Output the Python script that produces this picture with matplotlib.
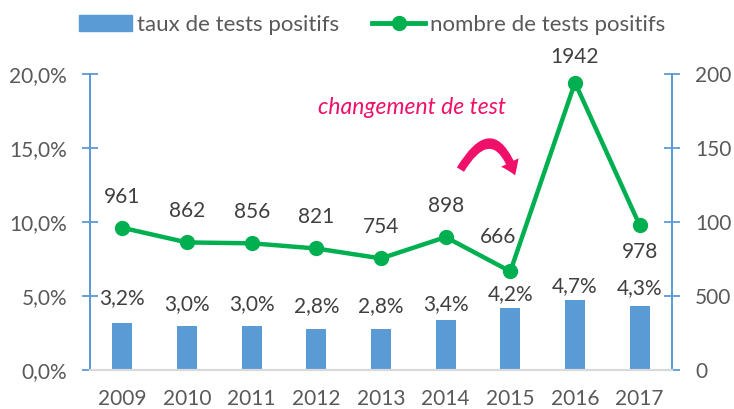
import matplotlib
matplotlib.use("Agg")
import matplotlib.pyplot as plt
from matplotlib.patches import FancyArrowPatch, Patch
from matplotlib.lines import Line2D

years = ["2009", "2010", "2011", "2012", "2013", "2014", "2015", "2016", "2017"]
taux = [3.2, 3.0, 3.0, 2.8, 2.8, 3.4, 4.2, 4.7, 4.3]
taux_labels = ["3,2%", "3,0%", "3,0%", "2,8%", "2,8%", "3,4%", "4,2%", "4,7%", "4,3%"]
nombre = [961, 862, 856, 821, 754, 898, 666, 1942, 978]
left_ticks = [0, 5, 10, 15, 20]
left_tick_labels = ["0,0%", "5,0%", "10,0%", "15,0%", "20,0%"]
right_ticks = [0, 500, 1000, 1500, 2000]
right_tick_labels = ["0", "500", "100", "150", "200"]

# layout: label baseline offsets in pixels (label placement, not data)
bar_label_dy = [19, 16, 16, 16, 16, 10, 8, 8, 12]
line_label_dx = [0, 0, 0, 0, 0, 0, -12, 0, 0]
line_label_dy = [25, 25, 25, 25, 25, 25, 28, 20, -33]

plt.rcParams['font.family'] = ['Lato', 'DejaVu Sans']
TXT = "#595959"
LAB = "#404040"
BLUE = "#5B9BD5"
GREEN = "#00B050"
PINK = "#F0106A"
PX = 0.72  # points per pixel at dpi 100

fig = plt.figure(figsize=(7.34, 4.09), dpi=100)
ax = fig.add_axes([90/734, 39/409, 582/734, 296/409])
ax2 = ax.twinx()

x = list(range(len(years)))
ax.bar(x, taux, width=0.31, color=BLUE, zorder=2)
ax.set_xlim(-0.5, len(years) - 0.5)
ax.set_ylim(0, 20)
ax.set_yticks(left_ticks)
ax.set_yticklabels(left_tick_labels)
ax.set_xticks(x)
ax.set_xticklabels(years)
ax.tick_params(axis='x', length=0, pad=14, labelsize=15, labelcolor=TXT)
ax.tick_params(axis='y', direction='inout', length=11, width=1.3, color=BLUE,
               pad=11, labelsize=15, labelcolor=TXT)

ax2.plot(x, nombre, color=GREEN, linewidth=3.2, marker='o', markersize=10, zorder=3)
ax2.set_ylim(0, 2000)
ax2.set_yticks(right_ticks)
ax2.set_yticklabels(right_tick_labels)
ax2.tick_params(axis='y', direction='inout', length=11, width=1.3, color=BLUE,
                pad=11, labelsize=15, labelcolor=TXT)

for a in (ax, ax2):
    a.spines['top'].set_visible(False)
    a.spines['left'].set_color(BLUE)
    a.spines['right'].set_color(BLUE)
    a.spines['left'].set_linewidth(1.3)
    a.spines['right'].set_linewidth(1.3)
    a.spines['bottom'].set_color("#D9D9D9")
    a.spines['bottom'].set_linewidth(1.5)

for i, (v, lab) in enumerate(zip(taux, taux_labels)):
    ax.annotate(lab, (i, v), xytext=(0, bar_label_dy[i]*PX), textcoords='offset points',
                ha='center', va='baseline', fontsize=15, color=LAB)

for i, v in enumerate(nombre):
    ax2.annotate(str(v), (i, v), xytext=(line_label_dx[i]*PX, line_label_dy[i]*PX),
                 textcoords='offset points', ha='center', va='baseline',
                 fontsize=15, color=LAB, annotation_clip=False)

fig.text(412/734, 1 - 108/409, "changement de test", ha='center', va='center',
         fontsize=16.5, style='italic', color=PINK)

arrow = FancyArrowPatch((459/734, 1 - 172/409), (516/734, 1 - 178/409),
                        transform=fig.transFigure,
                        connectionstyle="arc3,rad=-1.1",
                        arrowstyle="simple,head_width=14,head_length=10,tail_width=6",
                        color=PINK, linewidth=0)
fig.patches.append(arrow)

handles = [Patch(color=BLUE), Line2D([0], [0], color=GREEN, linewidth=3.5, marker='o', markersize=10)]
fig.legend(handles, ["taux de tests positifs", "nombre de tests positifs"],
           loc='center', bbox_to_anchor=(372/734, 1 - 25/409), ncol=2, frameon=False,
           fontsize=16, labelcolor=TXT, handlelength=2.4, handletextpad=0.2,
           columnspacing=1.5, borderaxespad=0, borderpad=0)

fig.savefig("out.png", dpi=100)
